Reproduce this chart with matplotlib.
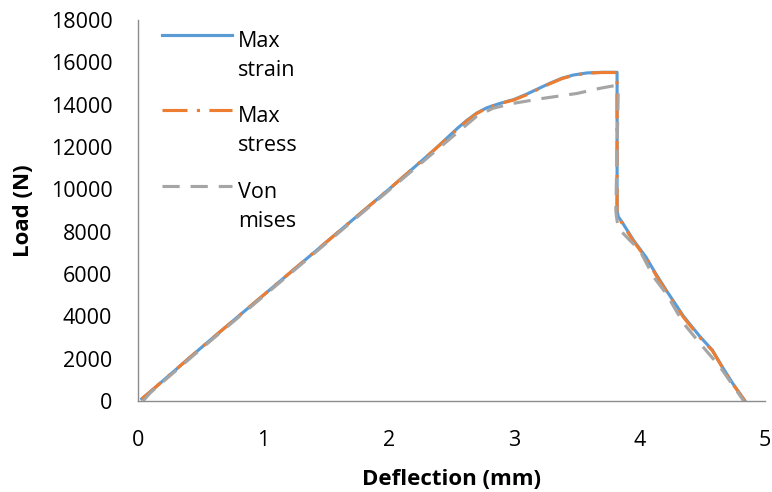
import matplotlib.pyplot as plt
from matplotlib.lines import Line2D

# deflection (mm) / load (N) for each failure criterion
strain_x = [0.03, 0.10, 0.50, 1.00, 1.50, 2.00, 2.35, 2.55, 2.62, 2.70, 2.78, 2.88,
            3.00, 3.10, 3.20, 3.28, 3.38, 3.47, 3.58, 3.70, 3.82, 3.82, 3.83, 3.86,
            3.95, 4.05, 4.13, 4.21, 4.35, 4.48, 4.58, 4.66, 4.74, 4.84]
strain_y = [100, 450, 2500, 5000, 7500, 10000, 11800, 12900, 13250, 13600, 13850, 14050,
            14250, 14500, 14780, 15000, 15250, 15400, 15500, 15530, 15530, 9000, 8700, 8450,
            7600, 6800, 6000, 5250, 4000, 3050, 2400, 1600, 850, 0]

stress_x = [0.03, 0.10, 0.50, 1.00, 1.50, 2.00, 2.35, 2.55, 2.62, 2.70, 2.78, 2.88,
            3.00, 3.10, 3.20, 3.28, 3.38, 3.47, 3.58, 3.70, 3.82, 3.82, 3.83, 3.86,
            3.95, 4.05, 4.13, 4.21, 4.35, 4.48, 4.58, 4.66, 4.74, 4.84]
stress_y = [100, 450, 2500, 5000, 7500, 10000, 11800, 12850, 13220, 13580, 13840, 14040,
            14230, 14470, 14760, 14980, 15230, 15380, 15490, 15520, 15520, 8950, 8650, 8400,
            7550, 6750, 5950, 5200, 3950, 3000, 2380, 1580, 820, 0]

mises_x = [0.04, 0.10, 0.50, 1.00, 1.50, 2.00, 2.35, 2.60, 2.70, 2.83, 2.99, 3.23,
           3.50, 3.68, 3.80, 3.83, 3.81, 3.82, 3.84, 3.92, 4.00, 4.11, 4.21, 4.35,
           4.48, 4.64, 4.83]
mises_y = [0, 400, 2450, 4950, 7450, 9950, 11700, 12950, 13450, 13830, 14060, 14300,
           14530, 14770, 14900, 14800, 9000, 8500, 8100, 7600, 7130, 5870, 5090, 3670,
           2730, 1620, 0]

labels = [("Max", "strain"), ("Max", "stress"), ("Von", "mises")]
colors = ["#5B9BD5", "#ED7D31", "#A5A5A5"]
styles = ["-", (0, (8, 3, 1, 3)), (0, (5.5, 3.5))]

x_ticks = [0, 1, 2, 3, 4, 5]
y_ticks = list(range(0, 18001, 2000))

plt.rcParams['font.family'] = ['Open Sans', 'DejaVu Sans']

fig = plt.figure(figsize=(7.72, 4.92), dpi=100)
ax = fig.add_axes([0.1788, 0.185, 0.8122, 0.7743])

series = [(strain_x, strain_y), (stress_x, stress_y), (mises_x, mises_y)]
for (xs, ys), c, ls in zip(series, colors, styles):
    ax.plot(xs, ys, color=c, linestyle=ls, linewidth=2.25,
            solid_joinstyle="round", dash_joinstyle="round")

ax.set_xlim(0, 5)
ax.set_ylim(0, 18000)
ax.set_xticks(x_ticks)
ax.set_yticks(y_ticks)
ax.tick_params(length=0, labelsize=15.5, colors="#000000")
ax.tick_params(axis='y', pad=18.5)
ax.tick_params(axis='x', pad=21)

for side in ["top", "right"]:
    ax.spines[side].set_visible(False)
for side in ["left", "bottom"]:
    ax.spines[side].set_color("#8C8C8C")
    ax.spines[side].set_linewidth(1.0)

ax.set_xlabel("Deflection (mm)", fontsize=16, fontweight="bold", labelpad=13)
ax.set_ylabel("Load (N)", fontsize=16, fontweight="bold", labelpad=12)

# legend drawn by hand so the handle sits beside the first text line
for i, ((top, bottom), c, ls) in enumerate(zip(labels, colors, styles)):
    yy = 0.961 - i * 0.198
    ax.add_line(Line2D([0.038, 0.150], [yy, yy], transform=ax.transAxes,
                       color=c, linestyle=ls, linewidth=2.25))
    ax.text(0.160, yy - 0.031, top, transform=ax.transAxes, fontsize=15.5,
            va="baseline", ha="left")
    ax.text(0.160, yy - 0.107, bottom, transform=ax.transAxes, fontsize=15.5,
            va="baseline", ha="left")

fig.savefig("out.png", dpi=100)
